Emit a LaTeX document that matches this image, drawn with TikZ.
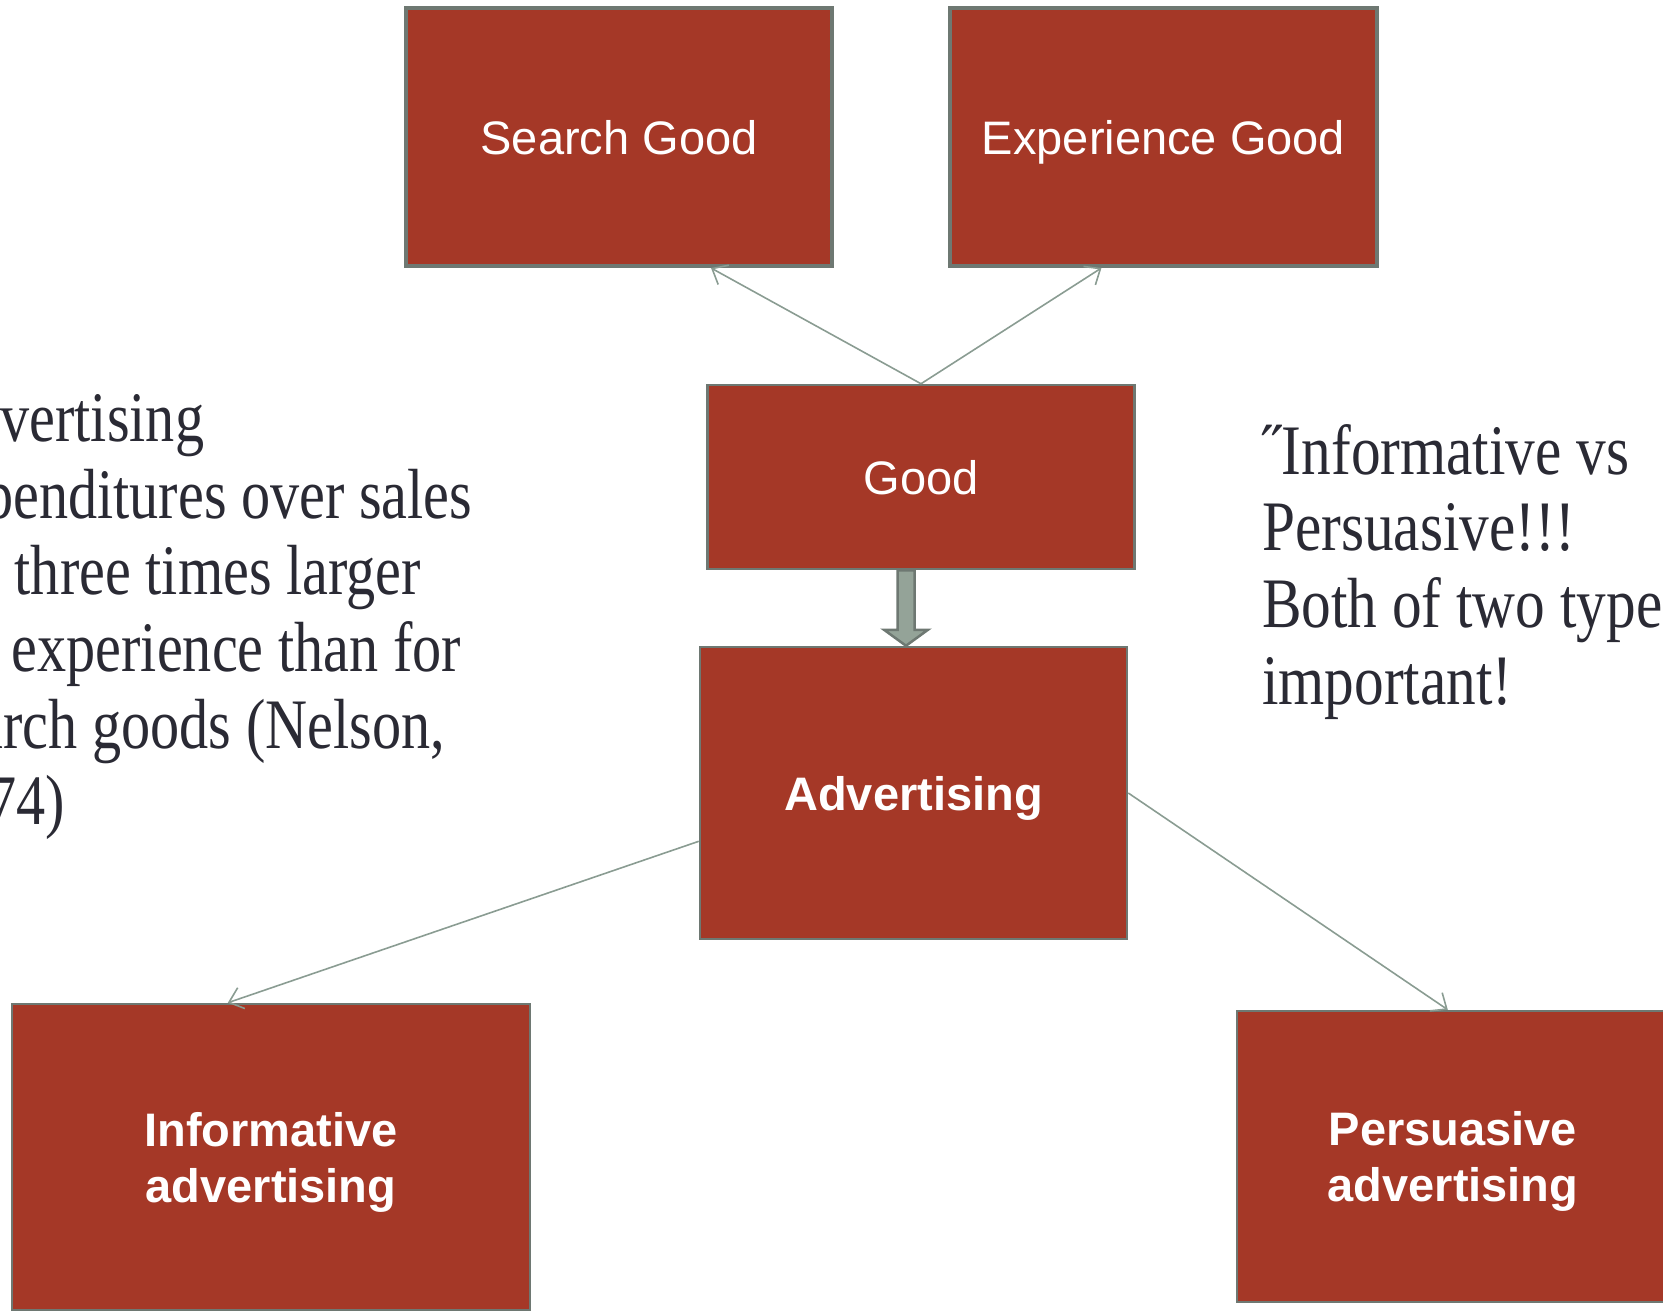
\documentclass[tikz,border=0pt]{standalone}
\usepackage{fontspec}
\setmainfont{Liberation Serif}
\newfontfamily\boxfont{Liberation Sans}
\newfontfamily\notefont[FakeStretch=0.82]{Liberation Serif}
\newfontfamily\notefontwide[FakeStretch=0.835]{Liberation Serif}
\usetikzlibrary{arrows.meta,calc}

\definecolor{rust}{RGB}{165,56,39}
\definecolor{edgegray}{RGB}{110,120,114}
\definecolor{linkgray}{RGB}{138,156,146}
\definecolor{inkdark}{RGB}{42,42,52}
\definecolor{arrowfill}{RGB}{148,163,152}

\begin{document}
\begin{tikzpicture}[x=1pt,y=-1pt,
  box/.style={draw=edgegray, fill=rust, line width=2.5pt, text=white,
    font=\boxfont\fontsize{47}{56}\selectfont, align=center, inner sep=0pt,
    text depth=0pt},
  topbox/.style={box, line width=4pt},
  link/.style={draw=linkgray, line width=1.6pt,
    -{Straight Barb[length=13pt,width=22pt,line width=1.6pt]}},
  note/.style={text=inkdark, font=\notefont\fontsize{71}{76.7}\selectfont,
    align=left, anchor=north west, inner sep=0pt}]
\useasboundingbox (0,0) rectangle (1663,1312);
\clip (0,0) rectangle (1663,1312);

% boxes
\node[topbox, minimum width=426pt, minimum height=258pt] (search) at (619,137) {Search Good};
\node[topbox, minimum width=427pt, minimum height=258pt] (exper) at (1163.5,137) {Experience Good};
\node[box, minimum width=427pt, minimum height=184pt] (good) at (921,477) {Good};
\node[box, minimum width=427pt, minimum height=292pt] (adv) at (913.5,793) {\bfseries Advertising};
\node[box, minimum width=518pt, minimum height=306pt] (info) at (271,1157) {\bfseries Informative\\\bfseries advertising};
\node[box, minimum width=432pt, minimum height=291pt] (pers) at (1453,1156.5) {\bfseries Persuasive\\\bfseries advertising};

% connectors
\draw[link] (good.north) -- ($(search.south west)!0.714!(search.south east)$);
\draw[link] (good.north) -- ($(exper.south west)!0.356!(exper.south east)$);
\draw[link] ($(adv.north west)!0.664!(adv.south west)$) -- ($(info.north west)!0.417!(info.north east)$);
\draw[link] (adv.east) -- ($(pers.north west)!0.488!(pers.north east)$);

% block arrow from Good to Advertising
\coordinate (tip) at ($(adv.north)+(-7.5,0)$);
\coordinate (sl) at ($(tip)+(-8.5,0)$);
\coordinate (sr) at ($(tip)+(8.5,0)$);
\draw[edgegray, line width=2.5pt, fill=arrowfill, line join=miter]
  (tip) -- ++(-22,-16) -- ++(13.5,0) -- (sl |- good.south) -- (sr |- good.south)
  -- ($(sr)+(0,-16)$) -- ++(13.5,0) -- cycle;

% side notes
\node[note] (left) at (-71,392) {Advertising\\expenditures over sales\\are three times larger\\for experience than for\\search goods (Nelson,\\1974)};
\node[note, font=\notefontwide\fontsize{71}{76.7}\selectfont] (right) at (1262,424) {˝Informative vs\\Persuasive!!!\\Both of two types are\\important!};
\end{tikzpicture}
\end{document}
